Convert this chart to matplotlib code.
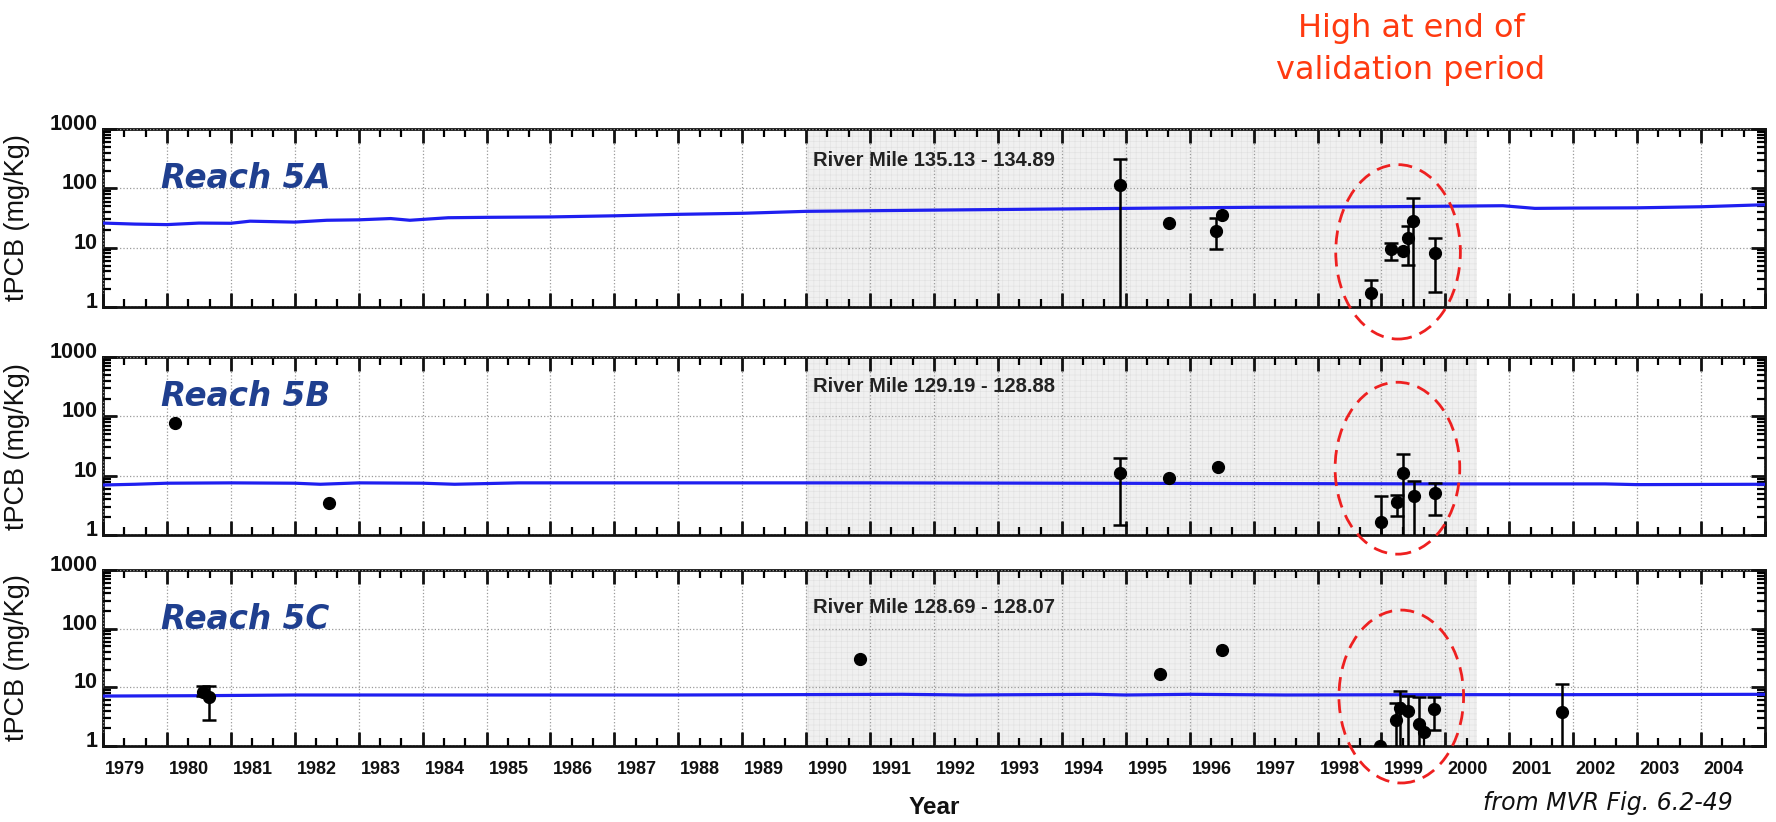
import numpy as np
import matplotlib
matplotlib.use("Agg")
import matplotlib.pyplot as plt
from matplotlib.patches import Ellipse
from matplotlib.ticker import FixedLocator, NullFormatter, LogLocator
import matplotlib.transforms as mtransforms

plt.rcParams['font.family'] = ['Liberation Sans', 'DejaVu Sans']
plt.rcParams['hatch.linewidth'] = 0.4

# --- data --------------------------------------------------------------
reaches = ["Reach 5A", "Reach 5B", "Reach 5C"]
river_miles = ["River Mile 135.13 - 134.89",
               "River Mile 129.19 - 128.88",
               "River Mile 128.69 - 128.07"]

# model (blue line)
model_5a_yr = [1979.0, 1979.5, 1980.0, 1980.5, 1981.0, 1981.3, 1982.0, 1982.5, 1983.0,
               1983.5, 1983.8, 1984.4, 1985.0, 1986.0, 1987.0, 1988.0, 1989.0, 1990.0,
               1991.0, 1992.0, 1993.0, 1994.0, 1995.0, 1996.0, 1997.0, 1998.0, 1999.0,
               2000.0, 2000.9, 2001.4, 2002.0, 2003.0, 2004.0, 2005.0]
model_5a = [26, 25, 24.5, 26, 25.8, 28, 27, 29, 29.5,
            31, 29, 32, 32.5, 33, 34.5, 36.5, 38, 41,
            42, 43, 44, 45, 46, 47, 48, 48.5, 49,
            50, 51, 46, 46.5, 47, 49, 53]

model_5b_yr = [1979.0, 1979.5, 1980.0, 1981.0, 1982.0, 1982.4, 1983.0, 1984.0, 1984.5,
               1985.5, 1988.0, 1991.0, 1994.0, 1997.0, 2000.0, 2002.5, 2003.0, 2005.0]
model_5b = [7.0, 7.2, 7.5, 7.6, 7.5, 7.2, 7.6, 7.5, 7.2,
            7.6, 7.6, 7.6, 7.5, 7.4, 7.3, 7.3, 7.1, 7.2]

model_5c_yr = [1979.0, 1980.5, 1982.0, 1985.0, 1988.0, 1991.5, 1992.5, 1993.5, 1994.5,
               1995.0, 1996.0, 1997.5, 2000.0, 2002.0, 2005.0]
model_5c = [7.1, 7.2, 7.4, 7.4, 7.4, 7.6, 7.4, 7.5, 7.6,
            7.4, 7.6, 7.4, 7.5, 7.5, 7.6]

# observations: year, value, lower, upper (nan = no error bar)
obs_5a_yr = [1994.91, 1995.67, 1996.41, 1996.50, 1998.83, 1999.15, 1999.33, 1999.42, 1999.50, 1999.84]
obs_5a = [114, 26.5, 19.4, 35.6, 1.7, 9.5, 8.9, 14.4, 28.5, 8.0]
obs_5a_lo = [0.5, np.nan, 9.4, np.nan, 0.5, 6.3, np.nan, 5.2, 0.5, 1.8]
obs_5a_hi = [313, np.nan, 32, np.nan, 2.9, 11.9, np.nan, 23, 70, 14.4]

obs_5b_yr = [1980.13, 1982.54, 1994.91, 1995.67, 1996.45, 1999.00, 1999.25, 1999.34, 1999.51, 1999.84]
obs_5b = [78, 3.5, 11, 9.2, 14, 1.64, 3.6, 11, 4.5, 5.2]
obs_5b_lo = [np.nan, np.nan, 1.5, np.nan, np.nan, 0.5, 2.1, 0.5, 0.5, 2.2]
obs_5b_hi = [np.nan, np.nan, 20, np.nan, np.nan, 4.6, 4.7, 23, 8.1, 7.7]

obs_5c_yr = [1980.56, 1980.66, 1990.85, 1995.53, 1996.51, 1998.98, 1999.23, 1999.29,
             1999.42, 1999.58, 1999.66, 1999.82, 2001.83]
obs_5c = [8.4, 6.9, 30, 16.6, 43, 1.0, 2.8, 4.4, 4.0, 2.4, 1.75, 4.2, 3.85]
obs_5c_lo = [7.0, 2.8, np.nan, np.nan, np.nan, np.nan, 0.5, 0.5, 0.5, 0.5, np.nan, 1.9, 0.5]
obs_5c_hi = [10.5, 10.6, np.nan, np.nan, np.nan, np.nan, 5.3, 8.7, 7.1, 6.8, np.nan, 6.8, 11.3]

years = list(range(1979, 2005))
validation = (1990.0, 2000.5)

# dashed ellipse annotation: center year, center (axes frac), width (yr), height (axes frac)
ellipses = [(1999.26, 0.31, 1.95, 0.98), (1999.25, 0.376, 1.95, 0.966), (1999.31, 0.281, 1.95, 0.983)]

models = [(model_5a_yr, model_5a), (model_5b_yr, model_5b), (model_5c_yr, model_5c)]
obs = [(obs_5a_yr, obs_5a, obs_5a_lo, obs_5a_hi),
       (obs_5b_yr, obs_5b, obs_5b_lo, obs_5b_hi),
       (obs_5c_yr, obs_5c, obs_5c_lo, obs_5c_hi)]
rm_y = [300, 320, 230]
reach_y = [0.72, 0.78, 0.72]

fig = plt.figure(figsize=(17.76, 8.22), dpi=100)
rects = [[0.058, 0.6265, 0.9358, 0.2165],
         [0.058, 0.349, 0.9358, 0.2165],
         [0.058, 0.0925, 0.9358, 0.214]]

for i, r in enumerate(rects):
    ax = fig.add_axes(r)
    ax.set_yscale('log')
    ax.set_xlim(1979, 2005)
    ax.set_ylim(1, 1000)

    ax.axvspan(*validation, facecolor='#f0f0f0', hatch='+++', edgecolor='#e0e0e0', lw=0, zorder=0)

    mx, my = models[i]
    ax.plot(mx, my, color='#1f1ff0', lw=2.3, zorder=3)

    oy, ov, olo, ohi = obs[i]
    oy = np.array(oy); ov = np.array(ov); olo = np.array(olo); ohi = np.array(ohi)
    has = ~np.isnan(olo)
    ax.errorbar(oy[has], ov[has], yerr=[ov[has] - olo[has], ohi[has] - ov[has]],
                fmt='none', ecolor='black', elinewidth=1.8, capsize=5, capthick=1.8, zorder=4)
    ax.plot(oy, ov, 'o', color='black', ms=8.5, zorder=5)

    ax.xaxis.set_major_locator(FixedLocator(years + [2005]))
    ax.xaxis.set_minor_locator(FixedLocator([y + f for y in years for f in (1/3, 2/3)]))
    ax.yaxis.set_minor_locator(LogLocator(base=10, subs=np.arange(2, 10), numticks=10))
    ax.yaxis.set_minor_formatter(NullFormatter())
    ax.set_yticks([1, 10, 100, 1000])
    ax.set_yticklabels(['1', '10', '100', '1000'], fontweight='bold')

    ax.tick_params(which='major', direction='in', length=10, width=2, top=True, right=True,
                   labelsize=15.5, pad=4, colors='#111111')
    ax.tick_params(which='minor', direction='in', length=6, width=1.6, top=True, right=True)
    ax.tick_params(axis='x', which='major', labelsize=13, pad=11)
    off = mtransforms.ScaledTranslation(0, 0.07, fig.dpi_scale_trans)
    for lbl in ax.get_yticklabels():
        lbl.set_transform(lbl.get_transform() + off)

    if i == 2:
        ax.set_xticklabels([str(y) for y in years] + [''], fontweight='bold')
        xoff = mtransforms.ScaledTranslation(0.02, 0, fig.dpi_scale_trans)
        for lbl in ax.get_xticklabels():
            lbl.set_horizontalalignment('left')
            lbl.set_transform(lbl.get_transform() + xoff)
    else:
        ax.tick_params(axis='x', labelbottom=False)

    for s in ax.spines.values():
        s.set_linewidth(2)
        s.set_color('#111111')

    ax.grid(which='major', ls=':', color='#9a9a9a', lw=0.9)
    ax.set_axisbelow(False)

    ax.set_ylabel('tPCB (mg/Kg)', fontsize=19.5, color='#111111')
    ax.yaxis.set_label_coords(-0.044, 0.5)

    ax.text(0.035, reach_y[i], reaches[i], transform=ax.transAxes, fontsize=23.5,
            fontweight='bold', fontstyle='italic', family='DejaVu Sans',
            color='#1f3f8f', va='center', ha='left', zorder=6)
    ax.text(1990.1, rm_y[i], river_miles[i], fontsize=14.5, fontweight='bold', color='#222222',
            va='center', ha='left', zorder=6)

    cx, cy, w, h = ellipses[i]
    trans = mtransforms.blended_transform_factory(ax.transData, ax.transAxes)
    e = Ellipse((cx, cy), w, h, transform=trans, fill=False, edgecolor='#ee2020',
                lw=2, ls=(0, (5, 3)), clip_on=False, zorder=7)
    ax.add_patch(e)

fig.text(0.526, 1 - 807 / 822, 'Year', fontsize=17.5, fontweight='bold',
         ha='center', va='center', color='#111111')
fig.text(0.7945, 0.94, 'High at end of\nvalidation period', fontsize=23,
         family='DejaVu Sans', color='#ff3a10', ha='center', va='center', linespacing=1.45)
fig.text(0.9055, 1 - 803 / 822, 'from MVR Fig. 6.2-49', fontsize=17, family='DejaVu Sans',
         fontstyle='italic', ha='center', va='center', color='#111111')

fig.savefig('out.png', dpi=100)
